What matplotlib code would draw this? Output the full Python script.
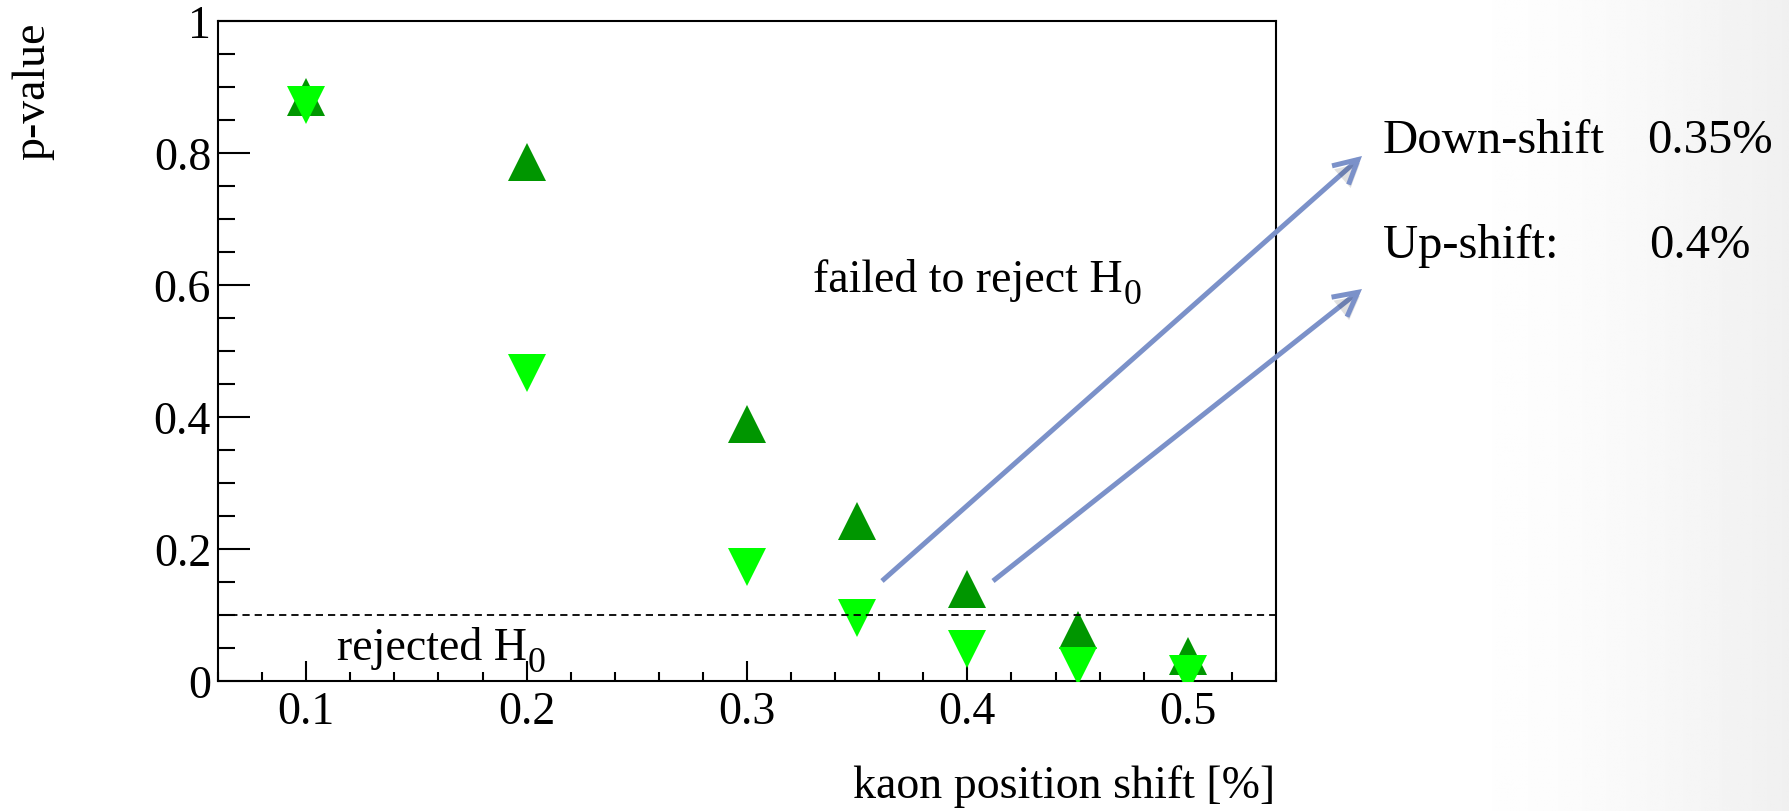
import numpy as np
import matplotlib
matplotlib.use("Agg")
import matplotlib.pyplot as plt
from matplotlib.patches import FancyArrowPatch, ArrowStyle
from matplotlib.ticker import MultipleLocator
import matplotlib.patheffects as pe

# p-values versus kaon position shift
shift = [0.1, 0.2, 0.3, 0.35, 0.4, 0.45, 0.5]
p_upshift = [0.885, 0.786, 0.390, 0.242, 0.139, 0.077, 0.038]
p_downshift = [0.873, 0.467, 0.173, 0.096, 0.049, 0.023, 0.011]
threshold = 0.1

x_ticks = [0.1, 0.2, 0.3, 0.4, 0.5]
x_ticklabels = ["0.1", "0.2", "0.3", "0.4", "0.5"]
y_ticks = [0, 0.2, 0.4, 0.6, 0.8, 1.0]
y_ticklabels = ["0", "0.2", "0.4", "0.6", "0.8", "1"]

plt.rcParams["font.family"] = ["Liberation Serif", "DejaVu Serif"]
plt.rcParams["lines.scale_dashes"] = False

W, H = 1789, 812
fig = plt.figure(figsize=(W / 100, H / 100), dpi=100)

# faint grey gradient towards the right edge of the page
bg = fig.add_axes([0, 0, 1, 1], zorder=-10)
xx = np.linspace(0, 1, 600)
yy = np.linspace(0, 1, 200)
X, Y = np.meshgrid(xx, yy)
shade = 1 - 0.06 * np.clip((X - 0.80) / 0.20, 0, 1) ** 1.6
bg.imshow(shade, extent=[0, 1, 0, 1], aspect="auto", cmap="gray",
          vmin=0, vmax=1, origin="lower")
bg.set_axis_off()

def fx(px):
    return px / W

def fy(py):
    return 1 - py / H

ax = fig.add_axes([fx(218), fy(682), fx(1276) - fx(218), fy(22) - fy(682)])
ax.set_facecolor("white")

ax.plot(shift, p_upshift, linestyle="none", marker="^", markersize=27.5,
        color="#009600", markeredgewidth=0, zorder=3)
ax.plot(shift, p_downshift, linestyle="none", marker="v", markersize=27.5,
        color="#00ff00", markeredgewidth=0, zorder=4)
ax.axhline(threshold, color="black", linewidth=1.3, dashes=(5.2, 3.6), zorder=5)

ax.set_xlim(0.06, 0.54)
ax.set_ylim(0, 1)
ax.set_xticks(x_ticks)
ax.set_xticklabels(x_ticklabels)
ax.set_yticks(y_ticks)
ax.set_yticklabels(y_ticklabels)
ax.xaxis.set_minor_locator(MultipleLocator(0.02))
ax.yaxis.set_minor_locator(MultipleLocator(0.05))

ax.tick_params(axis="both", which="both", direction="in", width=1.5,
               top=False, right=False, labelsize=33, colors="black")
ax.tick_params(axis="x", which="major", length=14.4, pad=7)
ax.tick_params(axis="x", which="minor", length=6.5)
ax.tick_params(axis="y", which="major", length=23, pad=5)
ax.tick_params(axis="y", which="minor", length=12)
for s in ax.spines.values():
    s.set_linewidth(1.5)

fig.text(fx(54), fy(23), "p-value", rotation=90, ha="right", va="top",
         fontsize=33)
fig.text(fx(1275), fy(798), "kaon position shift [%]", ha="right",
         va="baseline", fontsize=33)

fig.canvas.draw()
renderer = fig.canvas.get_renderer()


def label_with_subscript(px, py, main, sub, size):
    t = fig.text(fx(px), fy(py), main, ha="left", va="baseline", fontsize=size)
    bb = t.get_window_extent(renderer)
    fig.text(fx(bb.x1 + 1), fy(py + 12), sub, ha="left", va="baseline",
             fontsize=size * 0.78)


label_with_subscript(337, 660, "rejected H", "0", 33)
label_with_subscript(813, 292, "failed to reject H", "0", 33)

fig.text(fx(1383), fy(153), "Down-shift", ha="left", va="baseline", fontsize=35)
fig.text(fx(1647), fy(153), "0.35%", ha="left", va="baseline", fontsize=35)
fig.text(fx(1383), fy(258), "Up-shift:", ha="left", va="baseline", fontsize=35)
fig.text(fx(1649), fy(258), "0.4%", ha="left", va="baseline", fontsize=35)

arrow_color = "#7b91c9"
for (x0, y0), (x1, y1) in [((882, 582), (1362, 157)), ((993, 582), (1362, 290))]:
    arr = FancyArrowPatch(
        (fx(x0), fy(y0)), (fx(x1), fy(y1)), transform=fig.transFigure,
        arrowstyle=ArrowStyle("->", head_length=17, head_width=9),
        mutation_scale=1, shrinkA=0, shrinkB=0, color=arrow_color,
        linewidth=3.6, capstyle="butt", joinstyle="miter", zorder=10,
    )
    arr.set_path_effects([
        pe.SimplePatchShadow(offset=(1.5, -2.5), shadow_rgbFace="#000000",
                             alpha=0.12),
        pe.Normal(),
    ])
    fig.add_artist(arr)

fig.savefig("out.png", dpi=100)
